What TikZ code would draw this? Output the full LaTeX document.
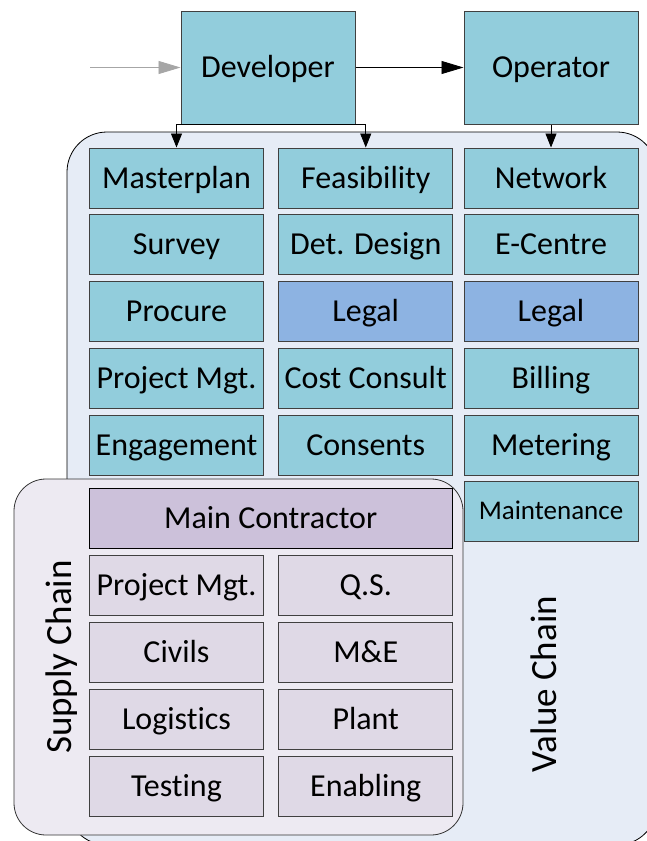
\documentclass[tikz,border=0pt]{standalone}
\usepackage{fontspec}
\setmainfont{Carlito}[Ligatures=NoCommon]
\usetikzlibrary{positioning}
\usetikzlibrary{calc}
\usetikzlibrary{arrows.meta}

\definecolor{cellteal}{HTML}{92CDDC}
\definecolor{legalblue}{HTML}{8DB3E2}
\definecolor{valuebg}{HTML}{E6ECF6}
\definecolor{supplybg}{HTML}{EDEAF2}
\definecolor{mainpurple}{HTML}{CCC1DA}
\definecolor{supplycell}{HTML}{DFD9E6}

\tikzset{
  cell/.style={draw=black!75, line width=1pt, fill=cellteal, minimum width=174pt,
    minimum height=60pt, inner sep=0pt, text height=22pt, text depth=2pt,
    font=\fontsize{32}{38}\selectfont},
  legalcell/.style={cell, fill=legalblue},
  subcell/.style={cell, fill=supplycell},
  chainlabel/.style={rotate=90, inner sep=0pt, font=\fontsize{37}{44}\selectfont},
  down/.style={-{Triangle[length=14pt,width=11pt]}, line width=0.8pt},
  across/.style={-{Triangle[length=22pt,width=13pt]}, line width=0.8pt}
}

\begin{document}
\begin{tikzpicture}[x=1pt, y=-1pt]
            \clip (0, 0) rectangle (647, 841);
            \useasboundingbox (0, 0) rectangle (647, 841);

            % value chain
            \draw[fill=valuebg, line width=0.8pt, rounded corners=40pt] (67, 132) rectangle (657, 845);
            \node[chainlabel] (valuelabel) at (544, 684) {Value Chain};

            \node[cell] (dev) at (268, 67.5) [minimum height=113pt] {Developer};
            \node[cell] (op) at (551, 67.5) [minimum height=113pt] {Operator};
            \coordinate (entry) at (90, 67.5);

            \node[cell] (masterplan) at (176.5, 178) {Masterplan};
            \node[cell] (survey) at (176.5, 244.5) {Survey};
            \node[cell] (procure) at (176.5, 311) {Procure};
            \node[cell] (projmgt) at (176.5, 378) {Project Mgt.};
            \node[cell] (engage) at (176.5, 445) {Engagement};

            \node[cell] (feasibility) at (365.75, 178) {Feasibility};
            \node[cell] (design) at (365.75, 244.5) {Det. Design};
            \node[legalcell] (devlegal) at (365.75, 311) {Legal};
            \node[cell] (cost) at (365.75, 378) {Cost Consult};
            \node[cell] (consents) at (365.75, 445) {Consents};

            \node[cell] (network) at (551, 178) {Network};
            \node[cell] (ecentre) at (551, 244.5) {E-Centre};
            \node[legalcell] (oplegal) at (551, 311) {Legal};
            \node[cell] (billing) at (551, 378) {Billing};
            \node[cell] (metering) at (551, 445) {Metering};
            \node[cell, font=\fontsize{27}{32}\selectfont, text height=19pt, text depth=3pt] (maint) at (551, 511) {Maintenance};

            \draw[across, draw=black!35] (entry) -- (dev.west);
            \draw[across] (dev.east) -- (op.west);
            \draw[down] (dev.south) -| (masterplan.north);
            \draw[down] (dev.south) -| (feasibility.north);
            \draw[down] (op.south) -- (network.north);

            % supply chain
            \draw[fill=supplybg, draw=black!80, line width=0.8pt, rounded corners=32pt] (14, 479) rectangle (463, 835);
            \node[chainlabel] (supplylabel) at (62, 657) {Supply Chain};

            \node[cell, fill=mainpurple, draw=black, minimum width=363.5pt] (main) at (270.75, 518) {Main Contractor};

            \node[subcell] (scmgt) at (176.5, 585) {Project Mgt.};
            \node[subcell] (civils) at (176.5, 652) {Civils};
            \node[subcell] (logistics) at (176.5, 719) {Logistics};
            \node[subcell] (testing) at (176.5, 786) {Testing};

            \node[subcell] (qs) at (365.75, 585) {Q.S.};
            \node[subcell] (mande) at (365.75, 652) {M\&E};
            \node[subcell] (plant) at (365.75, 719) {Plant};
            \node[subcell] (enabling) at (365.75, 786) {Enabling};

          \end{tikzpicture}
\end{document}
